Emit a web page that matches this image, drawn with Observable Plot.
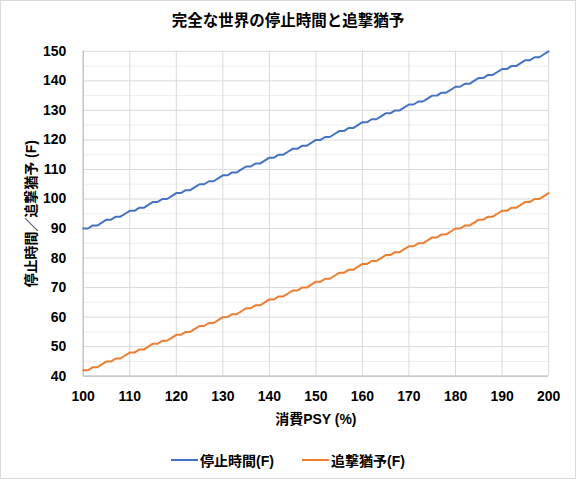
<!DOCTYPE html>
<html>
<head>
<meta charset="utf-8">
<script src="https://cdn.jsdelivr.net/npm/d3@7"></script>
<script src="https://cdn.jsdelivr.net/npm/@observablehq/plot@0.6"></script>
<style>
  html, body { margin: 0; padding: 0; background: #fff; }
  #wrap { position: relative; width: 574px; height: 477px; border: 1px solid #d9d9d9; overflow: hidden;
          font-family: "Liberation Sans", "Noto Sans CJK JP", sans-serif; color: #000; }
  #title { position: absolute; top: 7px; left: 0; width: 574px; text-align: center; font-size: 15.5px; font-weight: bold;
           font-family: "Noto Sans CJK JP", sans-serif; }
  #chart { position: absolute; top: 0; left: 0; }
  #legend { position: absolute; top: 449px; left: 0; width: 574px; display: flex; justify-content: center; gap: 28px;
            font-size: 14px; font-weight: bold; font-family: "Liberation Sans", "Noto Sans CJK JP", sans-serif; }
  .item { display: flex; align-items: center; gap: 2px; }
  .sw { width: 27px; height: 2px; display: inline-block; }
</style>
</head>
<body>
<div id="wrap">
  <div id="title">完全な世界の停止時間と追撃猶予</div>
  <div id="chart"></div>
  <div id="legend"></div>
</div>
<script>
const psy = [100,101,102,103,104,105,106,107,108,109,110,111,112,113,114,115,116,117,118,119,
  120,121,122,123,124,125,126,127,128,129,130,131,132,133,134,135,136,137,138,139,
  140,141,142,143,144,145,146,147,148,149,150,151,152,153,154,155,156,157,158,159,
  160,161,162,163,164,165,166,167,168,169,170,171,172,173,174,175,176,177,178,179,
  180,181,182,183,184,185,186,187,188,189,190,191,192,193,194,195,196,197,198,199,200];
const stopTime = [90,90,91,91,92, 93,93,94,94,95, 96,96,97,97,98, 99,99,100,100,101,
  102,102,103,103,104, 105,105,106,106,107, 108,108,109,109,110, 111,111,112,112,113,
  114,114,115,115,116, 117,117,118,118,119, 120,120,121,121,122, 123,123,124,124,125,
  126,126,127,127,128, 129,129,130,130,131, 132,132,133,133,134, 135,135,136,136,137,
  138,138,139,139,140, 141,141,142,142,143, 144,144,145,145,146, 147,147,148,148,149, 150];
const chaseGrace = [42,42,43,43,44, 45,45,46,46,47, 48,48,49,49,50, 51,51,52,52,53,
  54,54,55,55,56, 57,57,58,58,59, 60,60,61,61,62, 63,63,64,64,65,
  66,66,67,67,68, 69,69,70,70,71, 72,72,73,73,74, 75,75,76,76,77,
  78,78,79,79,80, 81,81,82,82,83, 84,84,85,85,86, 87,87,88,88,89,
  90,90,91,91,92, 93,93,94,94,95, 96,96,97,97,98, 99,99,100,100,101, 102];
const seriesNames = ["停止時間(F)", "追撃猶予(F)"];
const seriesColors = ["#4472C4", "#ED7D31"];
const xTicks = [100,110,120,130,140,150,160,170,180,190,200];
const yTicks = [40,50,60,70,80,90,100,110,120,130,140,150];
const yMinor = [45,55,65,75,85,95,105,115,125,135,145];

const rows = [];
psy.forEach((p, i) => {
  rows.push({psy: p, v: stopTime[i], s: seriesNames[0]});
  rows.push({psy: p, v: chaseGrace[i], s: seriesNames[1]});
});

const font = "'Liberation Sans', 'Noto Sans CJK JP', sans-serif";
const plot = Plot.plot({
  width: 576, height: 440,
  marginLeft: 82, marginRight: 27, marginTop: 50, marginBottom: 64,
  style: {fontFamily: font, fontSize: "14px", fontWeight: "bold", color: "#000", background: "transparent"},
  x: {domain: [100, 200], ticks: xTicks, tickSize: 0, tickPadding: 15,
      label: "消費PSY (%)", labelAnchor: "center", labelOffset: 48, labelArrow: "none"},
  y: {domain: [40, 150], ticks: yTicks, tickSize: 0, tickPadding: 17,
      label: "停止時間／追撃猶予 (F)", labelAnchor: "center", labelOffset: 57, labelArrow: "none"},
  color: {domain: seriesNames, range: seriesColors},
  marks: [
    Plot.ruleY(yMinor, {stroke: "#eeeeee", strokeWidth: 1}),
    Plot.ruleY(yTicks, {stroke: "#d9d9d9", strokeWidth: 1}),
    Plot.ruleX(xTicks, {stroke: "#d9d9d9", strokeWidth: 1}),
    Plot.ruleX([100], {stroke: "#bfbfbf", strokeWidth: 1.2}),
    Plot.ruleY([40], {stroke: "#bfbfbf", strokeWidth: 1.2}),
    Plot.line(rows, {x: "psy", y: "v", z: "s", stroke: "s", strokeWidth: 2, curve: "linear"})
  ]
});
plot.querySelectorAll("[aria-label='x-axis label'] text, [aria-label='y-axis label'] text").forEach(t => {
  t.style.fontSize = "14px";
});
document.getElementById("chart").appendChild(plot);

const legend = document.getElementById("legend");
seriesNames.forEach((n, i) => {
  const it = document.createElement("div");
  it.className = "item";
  const sw = document.createElement("span");
  sw.className = "sw";
  sw.style.background = seriesColors[i];
  const tx = document.createElement("span");
  tx.textContent = n;
  it.appendChild(sw); it.appendChild(tx);
  legend.appendChild(it);
});
</script>
</body>
</html>
